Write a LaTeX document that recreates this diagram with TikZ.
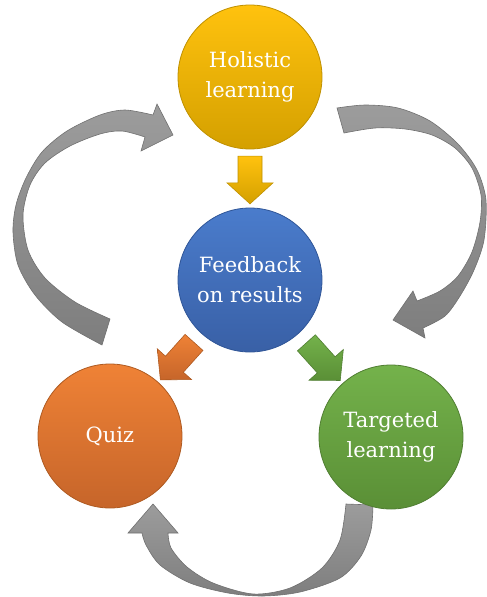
\documentclass[tikz,border=0pt]{standalone}
\usepackage{fontspec}
\setmainfont{DejaVu Serif}
\usetikzlibrary{calc}
\definecolor{holtop}{HTML}{FFC20E}
\definecolor{holbot}{HTML}{D4A000}
\definecolor{holline}{HTML}{BF9000}
\definecolor{fbtop}{HTML}{4A7CCC}
\definecolor{fbbot}{HTML}{3960A6}
\definecolor{fbline}{HTML}{2F5597}
\definecolor{qztop}{HTML}{EF8236}
\definecolor{qzbot}{HTML}{C6652A}
\definecolor{qzline}{HTML}{AE5A21}
\definecolor{tgtop}{HTML}{74B24B}
\definecolor{tgbot}{HTML}{5A8F36}
\definecolor{tgline}{HTML}{507E32}
\definecolor{graytop}{HTML}{9C9C9C}
\definecolor{graybot}{HTML}{7E7E7E}
\definecolor{grayline}{HTML}{707070}
% straight block arrow: style, tail, tip, name
\newcommand{\blockarrow}[4]{%
  \coordinate (#4-h) at ($(#3)!21pt!(#2)$);
  \draw[#1] ($(#2)!12pt!90:(#3)$) -- ($(#4-h)!12pt!90:(#3)$) -- ($(#4-h)!23pt!90:(#3)$)
    -- (#3) -- ($(#4-h)!23pt!-90:(#3)$) -- ($(#4-h)!12pt!-90:(#3)$) -- ($(#2)!12pt!-90:(#3)$) -- cycle;
}

\begin{document}
\begin{tikzpicture}[x=1pt,y=-1pt,
  stage/.style={circle,minimum size=144pt,inner sep=0pt,align=center,text=white,
    font=\fontsize{21}{30}\selectfont,line width=0.8pt},
  backarrow/.style={draw=grayline,line width=0.6pt,top color=graytop,bottom color=graybot}]
  \useasboundingbox (0,0) rectangle (487,597);

  % gray cycle arrows
  \draw[backarrow] plot[smooth] coordinates {(102,345) (62,322) (35,295) (18,265) (13,232) (16,205)
      (26,178) (42,152) (67,131) (100,115) (125,110) (153,115)}
    -- (157,104) -- (173,135) -- (141,151) -- (145,137)
    -- plot[smooth] coordinates {(145,137) (122,131) (100,134) (70,146) (45,163) (30,185)
      (23,215) (28,250) (45,278) (75,302) (110,319)} -- cycle;
  \draw[backarrow] plot[smooth] coordinates {(337,108) (365,105) (398,108) (430,121) (458,144)
      (477,170) (486,200) (484,240) (474,270) (460,296) (445,316) (423,328)}
    -- (425,338) -- (393,320) -- (413,291) -- (417,301)
    -- plot[smooth] coordinates {(417,301) (440,291) (458,276) (472,252) (480,222) (481,195)
      (472,168) (455,148) (432,135) (405,129) (375,128) (344,133)} -- cycle;
  \draw[backarrow] plot[smooth] coordinates {(373,505) (371,530) (361,556) (340,578) (300,592)
      (263,596) (228,593) (190,583) (160,565) (146,545) (142,533)}
    -- (128,533) -- (153,504) -- (178,533) -- (168,533)
    -- plot[smooth] coordinates {(168,533) (171,548) (187,567) (213,583) (253,594) (290,588)
      (322,568) (340,540) (346,504)} -- cycle;

  % stages
  \node[stage,draw=holline,top color=holtop,bottom color=holbot] (hol) at (250,77) {Holistic\\learning};
  \node[stage,draw=fbline,top color=fbtop,bottom color=fbbot] (fb) at (250,280) {Feedback\\on results};
  \node[stage,draw=qzline,top color=qztop,bottom color=qzbot] (qz) at (110,436) {Quiz};
  \node[stage,draw=tgline,top color=tgtop,bottom color=tgbot] (tg) at (391,437) {Targeted\\learning};

  % block arrows out of the feedback
  \coordinate (d1) at ($(hol.center)!0.39!(fb.center)$);
  \coordinate (d2) at ($(hol.center)!0.625!(fb.center)$);
  \coordinate (q1) at ($(fb.center)!0.4!(qz.center)$);
  \coordinate (q2) at ($(fb.center)!0.64!(qz.center)$);
  \coordinate (t1) at ($(fb.center)!0.4!(tg.center)$);
  \coordinate (t2) at ($(fb.center)!0.64!(tg.center)$);
  \blockarrow{draw=holline,line width=0.6pt,top color=holtop,bottom color=holbot}{d1}{d2}{down}
  \blockarrow{draw=qzline,line width=0.6pt,top color=qztop,bottom color=qzbot}{q1}{q2}{toquiz}
  \blockarrow{draw=tgline,line width=0.6pt,top color=tgtop,bottom color=tgbot}{t1}{t2}{totg}
\end{tikzpicture}
\end{document}
